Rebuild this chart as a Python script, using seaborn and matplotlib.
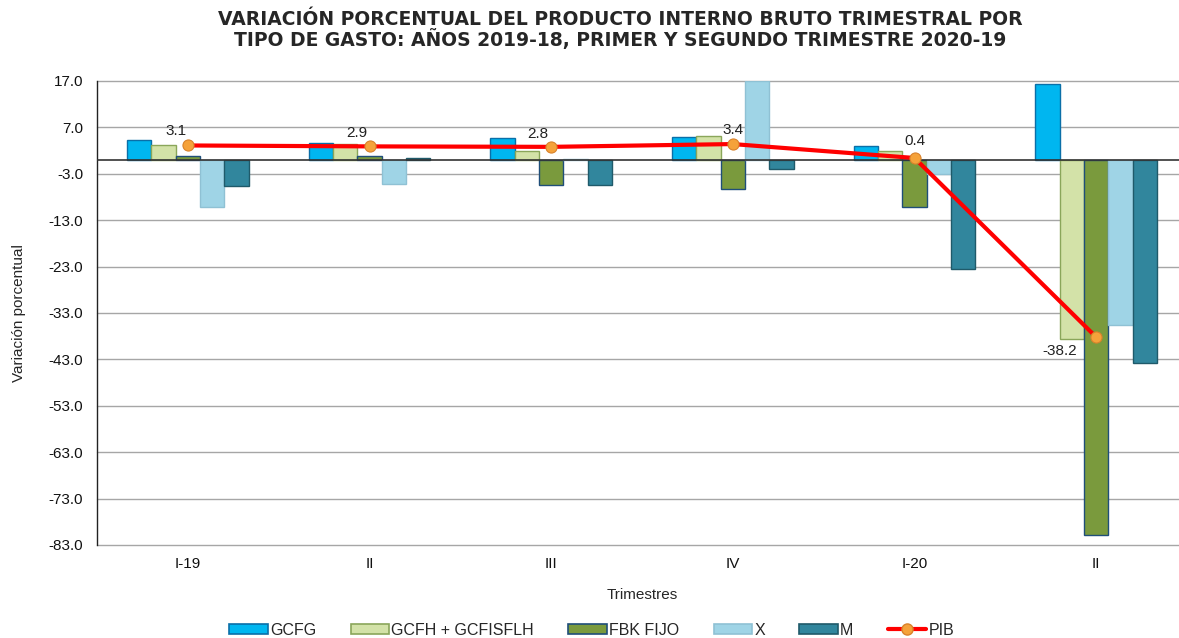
import numpy as np
import pandas as pd
import seaborn as sns
import matplotlib
matplotlib.use("Agg")
from matplotlib import pyplot as plt
from matplotlib.patches import Patch
from matplotlib.lines import Line2D

# datos
trimestres = ["I-19", "II-19", "III-19", "IV-19", "I-20", "II-20"]
etiquetas = ["I-19", "II", "III", "IV", "I-20", "II"]
series = ["GCFG", "GCFH + GCFISFLH", "FBK FIJO", "X", "M"]
gcfg = [4.3, 3.6, 4.7, 5.0, 2.9, 16.3]
gcfh = [3.3, 3.4, 1.9, 5.1, 1.8, -38.7]
fbk = [0.9, 0.9, -5.5, -6.3, -10.1, -80.8]
exp_x = [-10.1, -5.2, 0.1, 16.9, -3.1, -35.7]
imp_m = [-5.6, 0.4, -5.5, -2.0, -23.6, -43.7]
pib = [3.1, 2.9, 2.8, 3.4, 0.4, -38.2]

colores = ["#00b6f0", "#d3e2a8", "#7a9a3d", "#9fd4e6", "#31869d"]
bordes = ["#0a6fa8", "#8aa65a", "#1f4e79", "#8fc1d4", "#1f5a6a"]

df = pd.DataFrame({
    "trimestre": np.repeat(trimestres, len(series)),
    "serie": series * len(trimestres),
    "valor": np.array([gcfg, gcfh, fbk, exp_x, imp_m]).T.ravel(),
})

sns.set_style("white")
plt.rcParams["font.family"] = ["Liberation Sans", "DejaVu Sans"]

fig = plt.figure(figsize=(11.79, 6.38), dpi=100)
ax = fig.add_axes([0.0823, 0.1458, 0.9245, 0.7273])

sns.barplot(data=df, x="trimestre", y="valor", hue="serie", order=trimestres,
            hue_order=series, palette=colores, width=0.67, gap=0,
            saturation=1, legend=False, ax=ax, zorder=3)

# bordes de las barras
for i, cont in enumerate(ax.containers):
    for b in cont:
        b.set_edgecolor(bordes[i])
        b.set_linewidth(1.0)

x_pos = np.arange(len(trimestres))
ax.plot(x_pos, pib, color="#ff0000", lw=3, zorder=5)
ax.plot(x_pos, pib, "o", ms=8, mfc="#f5a23a", mec="#d9822b", mew=0.8, zorder=6)

offsets = [(-12, 14), (-13, 13), (-13, 13), (0, 14), (0, 17), (-36, -14)]
for xi, v, off in zip(x_pos, pib, offsets):
    ax.annotate(f"{v:.1f}", (xi, v), xytext=off, textcoords="offset pixels",
                ha="center", va="center", fontsize=11, color="#222222", zorder=7)

ax.set_ylim(-83, 17)
ax.set_xlim(-0.5, 5.5)
ax.set_yticks(np.arange(-83, 18, 10))
ax.set_yticklabels([f"{t:.1f}" for t in np.arange(-83, 18, 10)])
ax.set_xticks(x_pos)
ax.set_xticklabels(etiquetas)
ax.tick_params(axis="both", length=0, labelsize=11, colors="#111111")
ax.tick_params(axis="y", pad=10)
ax.tick_params(axis="x", pad=9)
ax.yaxis.grid(True, color="#a6a6a6", lw=1, zorder=0)
for gl in ax.get_ygridlines():
    gl.set_clip_on(False)
ax.axhline(0, color="#333333", lw=1.2, zorder=4)
for s in ["top", "right", "bottom"]:
    ax.spines[s].set_visible(False)
ax.spines["left"].set_color("#222222")
ax.spines["left"].set_linewidth(1)

ax.set_xlabel("Trimestres", fontsize=11, labelpad=12)
ax.set_ylabel("Variación porcentual", fontsize=11,
              family=["Liberation Sans Narrow", "Liberation Sans"], labelpad=16)

fig.text(0.526, 0.985,
         "VARIACIÓN PORCENTUAL DEL PRODUCTO INTERNO BRUTO TRIMESTRAL POR\n"
         "TIPO DE GASTO: AÑOS 2019-18, PRIMER Y SEGUNDO TRIMESTRE 2020-19",
         ha="center", va="top", fontsize=13.5, fontweight="bold", linespacing=1.0,
         family="DejaVu Sans")

handles = [Patch(facecolor=c, edgecolor=e, lw=1.2) for c, e in zip(colores, bordes)]
handles.append(Line2D([], [], color="#ff0000", lw=3, marker="o", ms=8,
                      mfc="#f5a23a", mec="#d9822b"))
fig.legend(handles, series + ["PIB"], loc="lower center", ncol=6, frameon=False,
           fontsize=11.5, bbox_to_anchor=(0.502, -0.022), handlelength=2.4,
           handleheight=0.55, handletextpad=0.15, columnspacing=2.15)

fig.savefig("out.png", dpi=100)
